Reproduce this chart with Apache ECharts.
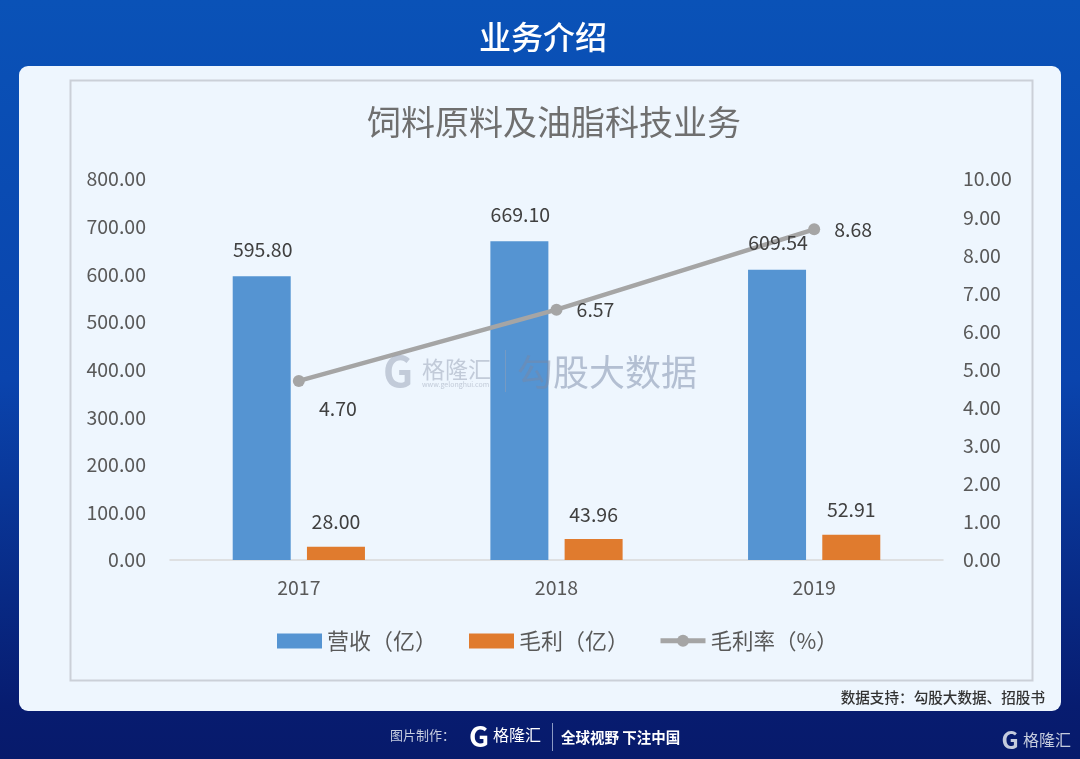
<!DOCTYPE html>
<html>
<head>
<meta charset="utf-8">
<style>html,body{margin:0;padding:0;background:#0a3a9e}#main{width:1080px;height:759px}</style>
<script src="https://cdn.jsdelivr.net/npm/echarts@6/dist/echarts.min.js"></script>
</head>
<body>
<div id="main"></div>
<script>
var years = ['2017', '2018', '2019'];
var revenue = [595.80, 669.10, 609.54];
var profit = [28.00, 43.96, 52.91];
var margin = [4.70, 6.57, 8.68];

var font = '"Noto Sans CJK SC", sans-serif';
var labelColor = '#595959';

// 毛利率 labels sit in different spots, one per point
var marginLabelOffset = [[39, 28], [39, 0], [39, 0]];

function fixed2(v) { return v.toFixed(2); }

var chart = echarts.init(document.getElementById('main'));
chart.setOption({
    animation: false,
    textStyle: {fontFamily: font},
    title: {
        text: '饲料原料及油脂科技业务',
        left: 549, top: 100, textAlign: 'center',
        textStyle: {fontSize: 34, fontWeight: 'normal', color: '#6f6f6f', fontFamily: font}
    },
    grid: {left: 170, right: 137, top: 179, height: 381},
    legend: [
        {
            left: 272, top: 625, itemWidth: 45, itemHeight: 15, itemGap: 32,
            textStyle: {fontSize: 22, color: labelColor},
            data: [{name: '营收（亿）', icon: 'rect'}, {name: '毛利（亿）', icon: 'rect'}]
        },
        {
            left: 653, top: 625, itemWidth: 45, itemHeight: 15,
            textStyle: {fontSize: 21.5, color: labelColor},
            data: [{name: '毛利率（%）', lineStyle: {width: 5}}]
        }
    ],
    xAxis: {
        type: 'category', data: years,
        axisTick: {show: false},
        axisLine: {lineStyle: {color: '#d9d9d9', width: 1.5}},
        axisLabel: {fontSize: 19.5, color: labelColor, margin: 18}
    },
    yAxis: [
        {
            type: 'value', min: 0, max: 800, interval: 100,
            splitLine: {show: false}, axisLine: {show: false}, axisTick: {show: false},
            axisLabel: {fontSize: 19.5, color: labelColor, margin: 24, padding: [0, 0, 10, 0], formatter: fixed2}
        },
        {
            type: 'value', min: 0, max: 10, interval: 1,
            splitLine: {show: false}, axisLine: {show: false}, axisTick: {show: false},
            axisLabel: {fontSize: 19.5, color: labelColor, margin: 20, padding: [0, 0, 10, 0], formatter: fixed2}
        }
    ],
    series: [
        {
            name: '营收（亿）', type: 'bar', data: revenue,
            barWidth: 58, barGap: '28%',
            itemStyle: {color: '#5594d2'},
            // labels go through markPoint so that 609.54 stays on top of the line
            markPoint: {
                z: 10, symbol: 'circle', symbolSize: 0,
                data: revenue.map(function (v, i) {
                    return {coord: [i, v], value: v};
                }),
                label: {
                    show: true, position: 'inside', offset: [1, -27],
                    fontSize: 19.5, color: '#404040',
                    formatter: function (p) { return fixed2(p.value); }
                }
            }
        },
        {
            name: '毛利（亿）', type: 'bar', data: profit,
            barWidth: 58,
            itemStyle: {color: '#e07b2e'},
            label: {show: true, position: 'top', distance: 15, fontSize: 19.5, color: '#404040', formatter: function (p) { return fixed2(p.value); }}
        },
        {
            name: '毛利率（%）', type: 'line', yAxisIndex: 1,
            data: margin.map(function (v, i) {
                return {value: v, label: {offset: marginLabelOffset[i]}};
            }),
            symbol: 'circle', symbolSize: 12,
            lineStyle: {color: '#a5a5a5', width: 4.5},
            itemStyle: {color: '#a5a5a5'},
            label: {show: true, position: 'inside', fontSize: 19.5, color: '#404040', formatter: function (p) { return fixed2(p.value); }}
        }
    ],
    graphic: [
        // page background and card sit under the plot
        {type: 'rect', z: -10, shape: {x: 0, y: 0, width: 1080, height: 759},
            style: {fill: new echarts.graphic.LinearGradient(0, 0, 0, 1, [
                {offset: 0, color: '#0a52b7'},
                {offset: 0.5, color: '#0a44ad'},
                {offset: 0.93, color: '#071c70'},
                {offset: 1, color: '#071a6b'}
            ])}},
        {type: 'rect', z: -9, shape: {x: 19, y: 66, width: 1042, height: 645, r: 9}, style: {fill: '#eef6fe'}},
        {type: 'rect', z: -8, shape: {x: 70.5, y: 80.5, width: 962, height: 600}, style: {fill: 'none', stroke: '#cbd0d8', lineWidth: 2}},
        {type: 'text', z: 20, style: {x: 543, y: 37, text: '业务介绍', fill: '#fff', font: '500 32px ' + font, textAlign: 'center', textVerticalAlign: 'middle'}},
        {type: 'text', z: 20, style: {x: 1045, y: 697, text: '数据支持：勾股大数据、招股书', fill: '#333', font: '500 14.6px ' + font, textAlign: 'right', textVerticalAlign: 'middle'}},

        // watermark, blended over the bars
        {type: 'text', z: 20, style: {x: 398, y: 371, text: 'G', fill: 'rgba(150,160,180,0.5)', font: 'bold 42px ' + font, textAlign: 'center', textVerticalAlign: 'middle'}},
        {type: 'text', z: 20, style: {x: 422, y: 369, text: '格隆汇', fill: 'rgba(150,160,180,0.5)', font: '23px ' + font, textVerticalAlign: 'middle'}},
        {type: 'text', z: 20, style: {x: 422, y: 384, text: 'www.gelonghui.com', fill: 'rgba(150,160,180,0.5)', font: '7px ' + font, textVerticalAlign: 'middle'}},
        {type: 'rect', z: 20, shape: {x: 505, y: 350, width: 1, height: 42}, style: {fill: 'rgba(150,160,180,0.5)'}},
        {type: 'text', z: 20, style: {x: 517, y: 372, text: '勾股大数据', fill: 'rgba(120,135,165,0.5)', font: '36px ' + font, textVerticalAlign: 'middle'}},

        // footer
        {type: 'text', z: 20, style: {x: 390, y: 735, text: '图片制作：', fill: '#c6cde0', font: '13px ' + font, textVerticalAlign: 'middle'}},
        {type: 'text', z: 20, style: {x: 479, y: 736, text: 'G', fill: '#fff', font: 'bold 28px ' + font, textAlign: 'center', textVerticalAlign: 'middle'}},
        {type: 'text', z: 20, style: {x: 493, y: 735, text: '格隆汇', fill: '#fff', font: '16px ' + font, textVerticalAlign: 'middle'}},
        {type: 'rect', z: 20, shape: {x: 552, y: 723, width: 1, height: 28}, style: {fill: '#8c9bc4'}},
        {type: 'text', z: 20, style: {x: 561, y: 737, text: '全球视野 下注中国', fill: '#fff', font: 'bold 14.5px ' + font, textVerticalAlign: 'middle'}},
        {type: 'text', z: 20, style: {x: 1010, y: 740, text: 'G', fill: '#c4cbdd', font: 'bold 24px ' + font, textAlign: 'center', textVerticalAlign: 'middle'}},
        {type: 'text', z: 20, style: {x: 1023, y: 740, text: '格隆汇', fill: '#c4cbdd', font: '16px ' + font, textVerticalAlign: 'middle'}}
    ]
});
</script>
</body>
</html>
